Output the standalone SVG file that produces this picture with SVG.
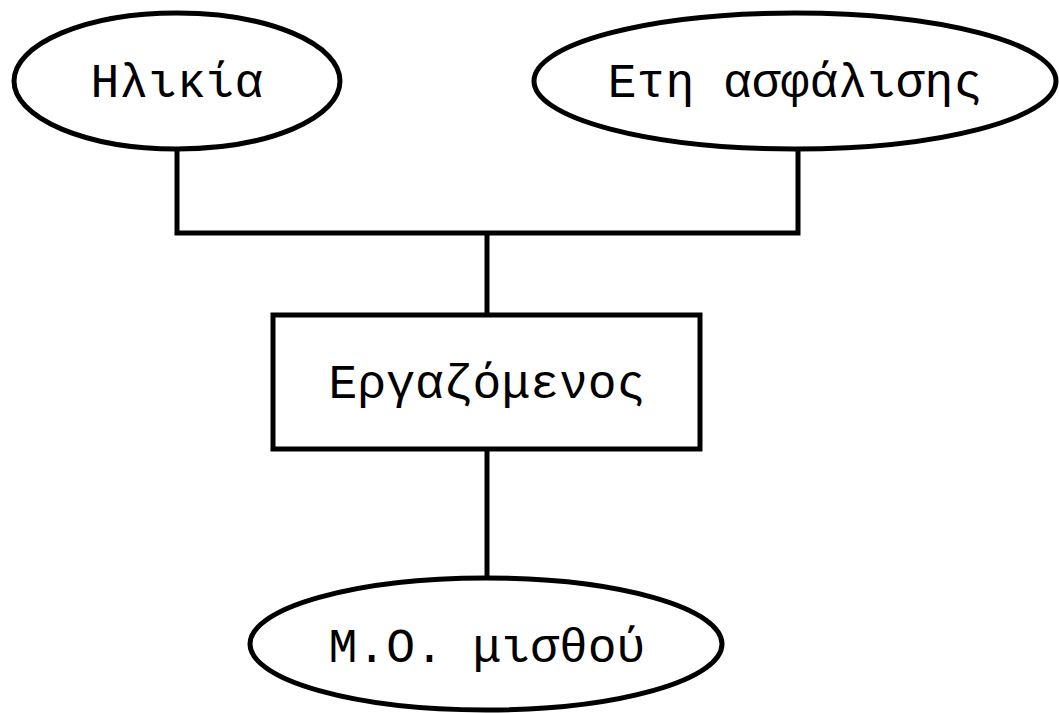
<svg xmlns="http://www.w3.org/2000/svg" width="1059" height="713" viewBox="0 0 1059 713">
<style>
.shape{fill:#fff;stroke:#000;stroke-width:5}
.conn{fill:none;stroke:#000;stroke-width:5}
.lbl{font-family:"Liberation Mono","DejaVu Sans Mono",monospace;font-size:48px;fill:#000;text-anchor:middle}
</style>
<rect width="1059" height="713" fill="#fff"/>
<g id="connectors">
<polyline class="conn" points="177,150 177,233 798,233 798,150"/>
<line class="conn" x1="487" y1="233" x2="487" y2="315"/>
<line class="conn" x1="487" y1="449" x2="487" y2="577"/>
</g>
<g id="node-ilikia">
<ellipse class="shape" cx="177" cy="81" rx="163" ry="68"/>
<text class="lbl" x="177" y="97">Ηλικία</text>
</g>
<g id="node-eti">
<ellipse class="shape" cx="795" cy="81" rx="261" ry="68"/>
<text class="lbl" x="795" y="97">Ετη ασφάλισης</text>
</g>
<g id="node-ergazomenos">
<rect class="shape" x="273" y="315" width="427" height="134"/>
<text class="lbl" x="487" y="398">Εργαζόμενος</text>
</g>
<g id="node-misthos">
<ellipse class="shape" cx="486" cy="644" rx="236" ry="66"/>
<text class="lbl" x="487" y="662">Μ.Ο. μισθού</text>
</g>
</svg>
